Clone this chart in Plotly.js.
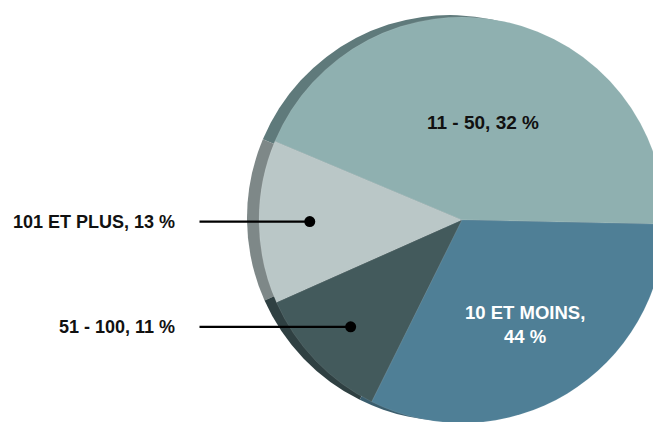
<!DOCTYPE html>
<html>
<head>
<meta charset="utf-8">
<script src="https://cdn.plot.ly/plotly-3.0.1.min.js"></script>
<style>
  html, body { margin: 0; padding: 0; overflow: hidden; background: #fff; }
  #chart { width: 700px; height: 460px; }
</style>
</head>
<body>
<div id="chart"></div>
<script>
// ---- data (slice order counter-clockwise from 3 o'clock) ----
const categories   = ["11 - 50", "101 ET PLUS", "51 - 100", "10 ET MOINS"];
const sliceShares  = [44, 13, 11, 32];          // slice sizes as drawn
const labelShares  = [32, 13, 11, 44];          // percentages printed on the chart
const labelLines   = [
  "11 - 50, 32 %",
  "101 ET PLUS, 13 %",
  "51 - 100, 11 %",
  "10 ET MOINS,<br>44 %"
];

// ---- styles ----
const frontColors = ["#8fb0b0", "#bac7c7", "#435a5c", "#4f7f96"];
const rimColors   = ["#5f7a7b", "#7e8888", "#2f4042", "#3b5e6e"];
const labelInside = [true, false, false, true];
const labelColor  = ["#111111", "#111111", "#111111", "#ffffff"];
const labelRadius = [0.49, 0.75, 0.76, 0.60];
const labelSize   = [19, 18, 18, 18.5];

// ---- geometry (pixels) ----
const W = 700, H = 460;
const cx = 462, cy = 220, R = 203;
const rimDx = -12, rimDy = -2;
const startDeg = -1.2;          // first boundary, degrees CCW from 3 o'clock
const lineStartX = 198;
const fontFam = "'Liberation Sans', Arial, sans-serif";

function domainFor(x0, y0) {
  return {
    x: [(x0 - R) / W, (x0 + R) / W],
    y: [(H - (y0 + R)) / H, (H - (y0 - R)) / H]
  };
}

const total = sliceShares.reduce((a, b) => a + b, 0);
// Plotly (counterclockwise): slice 0 sits clockwise of `rotation`, the rest follow CCW
const firstEndDeg = startDeg + sliceShares[0] / total * 360;

const common = {
  type: "pie",
  values: sliceShares,
  labels: categories,
  sort: false,
  direction: "counterclockwise",
  rotation: 90 - firstEndDeg,
  textinfo: "none",
  hoverinfo: "label+percent",
  showlegend: false
};

const rim = Object.assign({}, common, {
  domain: domainFor(cx + rimDx, cy + rimDy),
  marker: { colors: rimColors, line: { width: 0 } }
});
const front = Object.assign({}, common, {
  domain: domainFor(cx, cy),
  marker: { colors: frontColors, line: { color: "rgba(255,255,255,0.2)", width: 0.5 } }
});

// ---- labels computed from slice angles ----
const annotations = [];
let acc = 0;
sliceShares.forEach((v, i) => {
  const mid = startDeg + (acc + v / 2) / total * 360;
  acc += v;
  const th = mid * Math.PI / 180;
  const r = labelRadius[i] * R;
  const px = cx + r * Math.cos(th);
  const py = cy - r * Math.sin(th);
  const paperX = px / W, paperY = (H - py) / H;
  if (labelInside[i]) {
    annotations.push({
      xref: "paper", yref: "paper", x: paperX, y: paperY,
      text: labelLines[i], showarrow: false,
      xanchor: "center", yanchor: "middle", align: "center",
      font: { family: fontFam, size: labelSize[i], color: labelColor[i], weight: "bold" }
    });
  } else {
    annotations.push({
      xref: "paper", yref: "paper", x: paperX, y: paperY,
      text: "", showarrow: true,
      axref: "pixel", ayref: "pixel", ax: lineStartX - px, ay: 0,
      arrowhead: 6, arrowsize: 1.25, arrowwidth: 2.2, arrowcolor: "#000",
      standoff: 0, startstandoff: 0
    });
    annotations.push({
      xref: "paper", yref: "paper", x: (lineStartX - 21) / W, y: paperY,
      text: labelLines[i], showarrow: false,
      xanchor: "right", yanchor: "middle",
      font: { family: fontFam, size: labelSize[i], color: labelColor[i], weight: "bold" }
    });
  }
});

const layout = {
  width: W, height: H,
  margin: { l: 0, r: 0, t: 0, b: 0 },
  paper_bgcolor: "#ffffff",
  plot_bgcolor: "#ffffff",
  annotations: annotations
};

Plotly.newPlot("chart", [rim, front], layout, { displayModeBar: false, staticPlot: true });
</script>
</body>
</html>
